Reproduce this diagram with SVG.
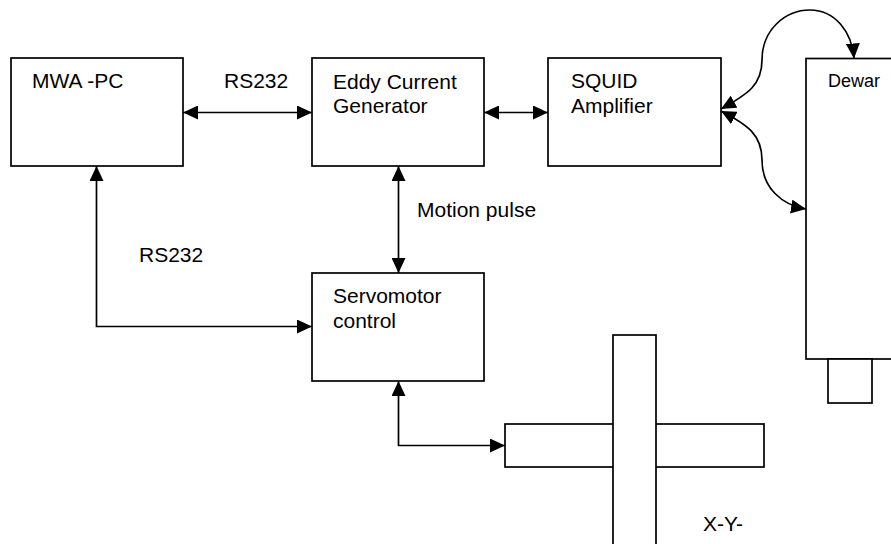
<svg xmlns="http://www.w3.org/2000/svg" width="891" height="544" viewBox="0 0 891 544">
<defs>
<style>
.box{fill:#fff;stroke:#000;stroke-width:1.7}
.ln{fill:none;stroke:#000;stroke-width:1.7}
text{font-family:"Liberation Sans",Arial,sans-serif;font-size:21px;fill:#000}
.small{font-size:18px}
</style>
<marker id="ah" viewBox="0 0 15 14" refX="15" refY="7" markerWidth="15" markerHeight="14" markerUnits="userSpaceOnUse" orient="auto-start-reverse">
<path d="M0,0 L15,7 L0,14 z" fill="#000"/>
</marker>
</defs>
<rect width="891" height="544" fill="#fff"/>
<g id="mwa-pc">
<rect class="box" x="11" y="58" width="172" height="108"/>
<text x="32" y="88">MWA -PC</text>
</g>
<g id="eddy-current-generator">
<rect class="box" x="312" y="58" width="172" height="108"/>
<text x="333" y="89">Eddy Current</text>
<text x="333" y="113">Generator</text>
</g>
<g id="squid-amplifier">
<rect class="box" x="548" y="58" width="173" height="108"/>
<text x="571" y="88">SQUID</text>
<text x="571" y="112.5">Amplifier</text>
</g>
<g id="dewar">
<rect class="box" x="806" y="58.5" width="100" height="300.5"/>
<rect class="box" x="828" y="359" width="44" height="44"/>
<text class="small" x="828" y="86.5">Dewar</text>
</g>
<g id="servomotor-control">
<rect class="box" x="312" y="273" width="172" height="108"/>
<text x="333" y="303">Servomotor</text>
<text x="333" y="328">control</text>
</g>
<g id="x-y-table">
<rect class="box" x="505" y="424" width="259" height="43"/>
<rect class="box" x="613" y="335" width="43" height="230"/>
<text x="703" y="530.5">X-Y-</text>
</g>
<g id="labels">
<text x="224" y="88">RS232</text>
<text x="139" y="261.5">RS232</text>
<text x="417" y="217">Motion pulse</text>
</g>
<g id="connectors">
<line class="ln" x1="183" y1="112.5" x2="312" y2="112.5" marker-start="url(#ah)" marker-end="url(#ah)"/>
<line class="ln" x1="484" y1="112.5" x2="548" y2="112.5" marker-start="url(#ah)" marker-end="url(#ah)"/>
<line class="ln" x1="398.5" y1="166" x2="398.5" y2="273" marker-start="url(#ah)" marker-end="url(#ah)"/>
<polyline class="ln" points="96.5,166 96.5,326.5 312,326.5" marker-start="url(#ah)" marker-end="url(#ah)"/>
<polyline class="ln" points="398.5,381 398.5,445.5 505,445.5" marker-start="url(#ah)" marker-end="url(#ah)"/>
<path class="ln" d="M721,109 C748,94 762,85 762,60 C762,30 785,10 810,10 C835,10 852,32 854,58.5" marker-start="url(#ah)" marker-end="url(#ah)"/>
<path class="ln" d="M721,111 C748,125 762,135 762,160 C762,188 782,205 806,209" marker-start="url(#ah)" marker-end="url(#ah)"/>
</g>
</svg>
